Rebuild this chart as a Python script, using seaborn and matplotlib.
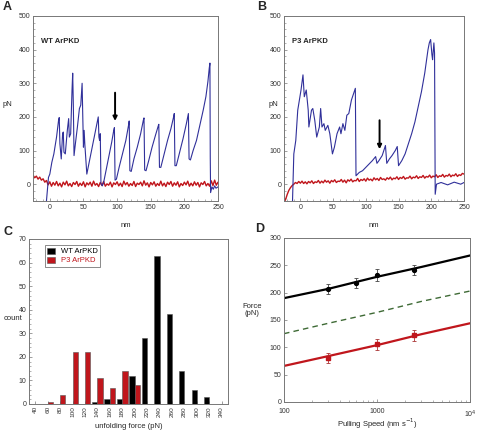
import numpy as np
import pandas as pd
import matplotlib
matplotlib.use("Agg")
import matplotlib.pyplot as plt
import seaborn as sns
from matplotlib.ticker import MultipleLocator, FixedLocator, NullFormatter

# ---------------- data ----------------
# panel A: WT ArPKD force-extension trace (vertices)
wt_trace_x = [-5, -2, 0, 3, 6, 10, 13, 14, 15, 17, 19, 20, 21, 23, 26, 28, 29, 31, 33, 34,
              35, 36, 38, 41, 44, 46, 48, 49, 50, 51, 52, 55, 58, 62, 66, 70, 72, 73, 74, 75,
              76, 78, 80, 84, 88, 92, 95, 96, 97, 99, 103, 108, 113, 117, 118, 119, 121, 125,
              130, 135, 139, 140, 141, 143, 147, 152, 157, 161, 162, 163, 165, 170, 175, 180,
              184, 185, 186, 188, 193, 198, 203, 206, 207, 209, 213, 218, 223, 228, 232, 235,
              237, 238, 238.5, 239, 241, 243, 245, 247, 250]
wt_trace_y = [-50, 20, 30, 65, 90, 140, 190, 198, 120, 75, 150, 155, 95, 90, 160, 195, 140, 150, 280, 330,
              230, 85, 120, 170, 225, 235, 300, 200, 110, 160, 120, 30, 60, 100, 140, 180, 200, 140, 130, 150,
              2, -5, 5, 45, 85, 125, 160, 168, 12, 15, 50, 90, 130, 175, 188, 40, 38, 75,
              110, 150, 190, 197, 42, 40, 70, 110, 145, 172, 178, 50, 50, 90, 130, 165,
              200, 210, 55, 55, 95, 135, 180, 210, 75, 72, 100, 130, 175, 220, 260, 305,
              345, 360, 80, -25, -8, -15, -5, -12, -8]
wt_base = [27, 19, 24, 15, 21, 12, 16, 6, 11, -2, 7, -6, 5, -3, 8, -5, 3, -8, 6, -2,
           9, -5, 2, -7, 5, -1, 8, -6, 3, -4, 7, -8, 4, -2, 6, -6, 9, -3, 2, -7,
           5, -4, 8, -6, 1, -3, 6, -8, 4, -1, 7, -5, 3, -7, 9, -2, 5, -6, 2, -4,
           8, -7, 3, -1, 6, -5, 10, -3, 4, -8, 5, -2, 7, -6, 2, -4, 9, -5, 3, -7,
           6, -1, 8, -6, 4, -3, 7, -8, 2, -4, 6, -2, 9, -6, 3, -5, 7, -3, 5, -8,
           4, -1, 8, -5, 2, -6, 10, -4, 12, -3, 6]

# panel B: P3 ArPKD trace
p3_trace_x = [-12, -10, -7, -4, 1, 4, 6, 9, 12, 13, 17, 19, 22, 25, 29, 31, 33, 36, 38, 42,
              45, 49, 52, 56, 60, 62, 65, 68, 71, 74, 78, 84, 85, 90, 95, 100, 105, 110, 115,
              117, 120, 125, 130, 132, 136, 140, 145, 148, 150, 155, 160, 165, 170, 175, 180,
              185, 190, 195, 197, 199, 201, 202, 204, 205, 206, 208, 215, 225, 235, 245, 250]
p3_trace_y = [-50, 90, 130, 220, 280, 325, 260, 280, 220, 170, 220, 225, 190, 140, 170, 225, 170, 180, 160, 175,
              150, 90, 110, 150, 170, 150, 180, 160, 205, 210, 250, 285, 25, 35, 40, 50, 60, 70, 82,
              62, 70, 85, 115, 62, 75, 85, 100, 112, 55, 70, 90, 120, 150, 185, 230,
              275, 330, 400, 420, 430, 385, 370, 420, 390, -30, 0, 5, -2, 6, 0, 5]
p3_base = [-55, -45, -30, -18, -10, -4, 0, 5, 2, 8, 3, 9, 2, 7, 1, 8, 4, 10, 2, 7,
           5, 11, 3, 9, 4, 12, 6, 10, 3, 11, 7, 13, 5, 9, 8, 14, 6, 12, 4, 13,
           9, 15, 7, 11, 10, 17, 8, 14, 11, 16, 9, 18, 12, 15, 10, 19, 13, 17, 11, 20,
           14, 16, 12, 19, 15, 21, 13, 18, 16, 22, 14, 20, 17, 23, 15, 19, 18, 24, 16, 21,
           19, 25, 17, 22, 20, 26, 18, 23, 21, 27, 19, 24, 22, 28, 20, 25, 23, 29, 21, 26,
           24, 30, 22, 27, 25, 31, 23, 28, 26, 32, 30]

# panel C: unfolding force histogram
force_bins = [40, 60, 80, 100, 120, 140, 160, 180, 200, 220, 240, 260, 280, 300, 320, 340]
wt_counts = [0, 0, 0, 0, 0, 1, 2, 2, 12, 28, 63, 38, 14, 6, 3, 0]
p3_counts = [0, 1, 4, 22, 22, 11, 7, 14, 8, 0, 0, 0, 0, 0, 0, 0]

# panel D: force vs pulling speed
fit_speed = [100, 300, 1000, 3000, 10000]
wt_fit = [190, 207, 229, 247, 268]
mid_fit = [125, 144, 164, 184, 203]
p3_fit = [66, 84, 104, 124, 144]
wt_speed = [300, 600, 1000, 2500]
wt_force = [206, 218, 232, 241]
wt_err = [9, 9, 11, 9]
p3_speed = [300, 1000, 2500]
p3_force = [80, 106, 122]
p3_err = [9, 10, 10]

BLUE = "#30309a"
RED = "#c0161c"
GREEN = "#3e6a35"

sns.set_style("ticks")
plt.rcParams["font.family"] = ["Liberation Sans", "DejaVu Sans"]
plt.rcParams["axes.edgecolor"] = "#777777"
plt.rcParams["axes.linewidth"] = 0.7
plt.rcParams["xtick.color"] = "#777777"
plt.rcParams["ytick.color"] = "#777777"
plt.rcParams["xtick.labelcolor"] = "#333333"
plt.rcParams["ytick.labelcolor"] = "#333333"
plt.rcParams["xtick.direction"] = "in"
plt.rcParams["ytick.direction"] = "in"

W, H = 478, 430
fig = plt.figure(figsize=(W / 100, H / 100), dpi=100)


def px_axes(x0, y0, x1, y1):
    return fig.add_axes([x0 / W, 1 - y1 / H, (x1 - x0) / W, (y1 - y0) / H])


def trace_panel(ax, tx, ty, base, label, arrow_x, arrow_top, arrow_tip, pn_x):
    bx = -25 + 2.5 * np.arange(len(base))
    sns.lineplot(x=bx, y=base, ax=ax, color=RED, lw=1.0, sort=False, estimator=None)
    sns.lineplot(x=tx, y=ty, ax=ax, color=BLUE, lw=0.8, sort=False, estimator=None)
    ax.set_xlim(-25, 250)
    ax.set_ylim(-50, 500)
    ax.xaxis.set_major_locator(MultipleLocator(50))
    ax.xaxis.set_minor_locator(MultipleLocator(10))
    ax.yaxis.set_major_locator(MultipleLocator(100))
    ax.yaxis.set_minor_locator(MultipleLocator(20))
    ax.tick_params(labelsize=5, length=2, width=0.5, pad=2)
    ax.tick_params(which="minor", length=1.2, width=0.4)
    ax.set_xlabel("nm", fontsize=5.5)
    ax.xaxis.set_label_coords(0.5, -0.115)
    ax.set_ylabel("pN", fontsize=5.5, rotation=0)
    ax.yaxis.set_label_coords(pn_x, 0.5)
    ax.text(0.045, 0.86, label, transform=ax.transAxes, fontsize=5.5,
            fontweight="bold", va="center")
    ax.annotate("", xy=(arrow_x, arrow_tip), xytext=(arrow_x, arrow_top),
                arrowprops=dict(arrowstyle="-|>", color="black", lw=1.4,
                                mutation_scale=6, shrinkA=0, shrinkB=0))


axA = px_axes(33, 16, 218, 201)
trace_panel(axA, wt_trace_x, wt_trace_y, wt_base, "WT ArPKD", 97, 272, 188, -0.14)
axB = px_axes(284, 16, 464, 201)
trace_panel(axB, p3_trace_x, p3_trace_y, p3_base, "P3 ArPKD", 121, 190, 104, -0.06)

# ---- panel C ----
axC = px_axes(29, 239, 228, 404)
hist = pd.DataFrame({
    "force": [str(b) for b in force_bins] * 2,
    "count": wt_counts + p3_counts,
    "type": ["WT ArPKD"] * len(force_bins) + ["P3 ArPKD"] * len(force_bins),
})
sns.barplot(data=hist, x="force", y="count", hue="type", ax=axC,
            palette={"WT ArPKD": "black", "P3 ArPKD": RED}, width=0.86,
            edgecolor="#555555", linewidth=0.4, saturation=1)
axC.set_xlim(-0.5, 15.5)
axC.set_ylim(0, 70)
axC.yaxis.set_major_locator(MultipleLocator(10))
axC.yaxis.set_minor_locator(MultipleLocator(2))
axC.tick_params(axis="x", labelrotation=90, pad=1.5, labelsize=4.6)
axC.tick_params(axis="y", pad=2, labelsize=5)
axC.tick_params(length=2, width=0.5)
axC.tick_params(which="minor", length=1.2, width=0.4)
axC.set_xlabel("unfolding force (pN)", fontsize=5.5)
axC.xaxis.set_label_coords(0.5, -0.115)
axC.set_ylabel("count", fontsize=5.5, rotation=0)
axC.yaxis.set_label_coords(-0.08, 0.5)
leg = axC.legend(loc="upper left", bbox_to_anchor=(0.06, 0.985), fontsize=5.5,
                 frameon=True, fancybox=False, edgecolor="#555555",
                 handlelength=1.0, handleheight=0.9, borderpad=0.3,
                 labelspacing=0.15, handletextpad=0.8)
leg.get_frame().set_linewidth(0.6)
for t, c in zip(leg.get_texts(), ["black", RED]):
    t.set_color(c)

# ---- panel D ----
axD = px_axes(284, 238, 470, 402)
sns.lineplot(x=fit_speed, y=wt_fit, ax=axD, color="black", lw=1.6)
sns.lineplot(x=fit_speed, y=mid_fit, ax=axD, color=GREEN, lw=1.0, linestyle=(0, (4, 3)))
sns.lineplot(x=fit_speed, y=p3_fit, ax=axD, color=RED, lw=1.6)
axD.errorbar(wt_speed, wt_force, yerr=wt_err, fmt="o", color="black", ms=2.8,
             elinewidth=0.6, capsize=1.5, capthick=0.6, ecolor="#444444")
axD.errorbar(p3_speed, p3_force, yerr=p3_err, fmt="s", color=RED, ms=2.8,
             elinewidth=0.6, capsize=1.5, capthick=0.6, ecolor="#aa3333")
axD.set_xscale("log")
axD.set_xlim(100, 10000)
axD.set_ylim(0, 300)
axD.xaxis.set_major_locator(FixedLocator([100, 1000, 10000]))
axD.set_xticklabels(["100", "1000", "10$^4$"])
axD.xaxis.set_minor_formatter(NullFormatter())
axD.yaxis.set_major_locator(MultipleLocator(50))
axD.tick_params(labelsize=5, length=2.5, width=0.5, pad=2)
axD.tick_params(axis="x", pad=4.5)
axD.tick_params(which="minor", length=1.5, width=0.4)
axD.set_xlabel("Pulling Speed (nm s$^{-1}$)", fontsize=5.5)
axD.xaxis.set_label_coords(0.5, -0.09)
axD.set_ylabel("Force\n(pN)", fontsize=5.5, rotation=0, linespacing=1.0)
axD.yaxis.set_label_coords(-0.17, 0.52)

for ax in (axA, axB, axC, axD):
    for s in ax.spines.values():
        s.set_visible(True)

# panel letters
for lbl, x, y in [("A", 3, 7), ("B", 257, 7), ("C", 3, 232), ("D", 255, 229)]:
    fig.text(x / W, 1 - y / H, lbl, fontsize=9, fontweight="bold", va="center", ha="left")

fig.savefig("out.png", dpi=100)
